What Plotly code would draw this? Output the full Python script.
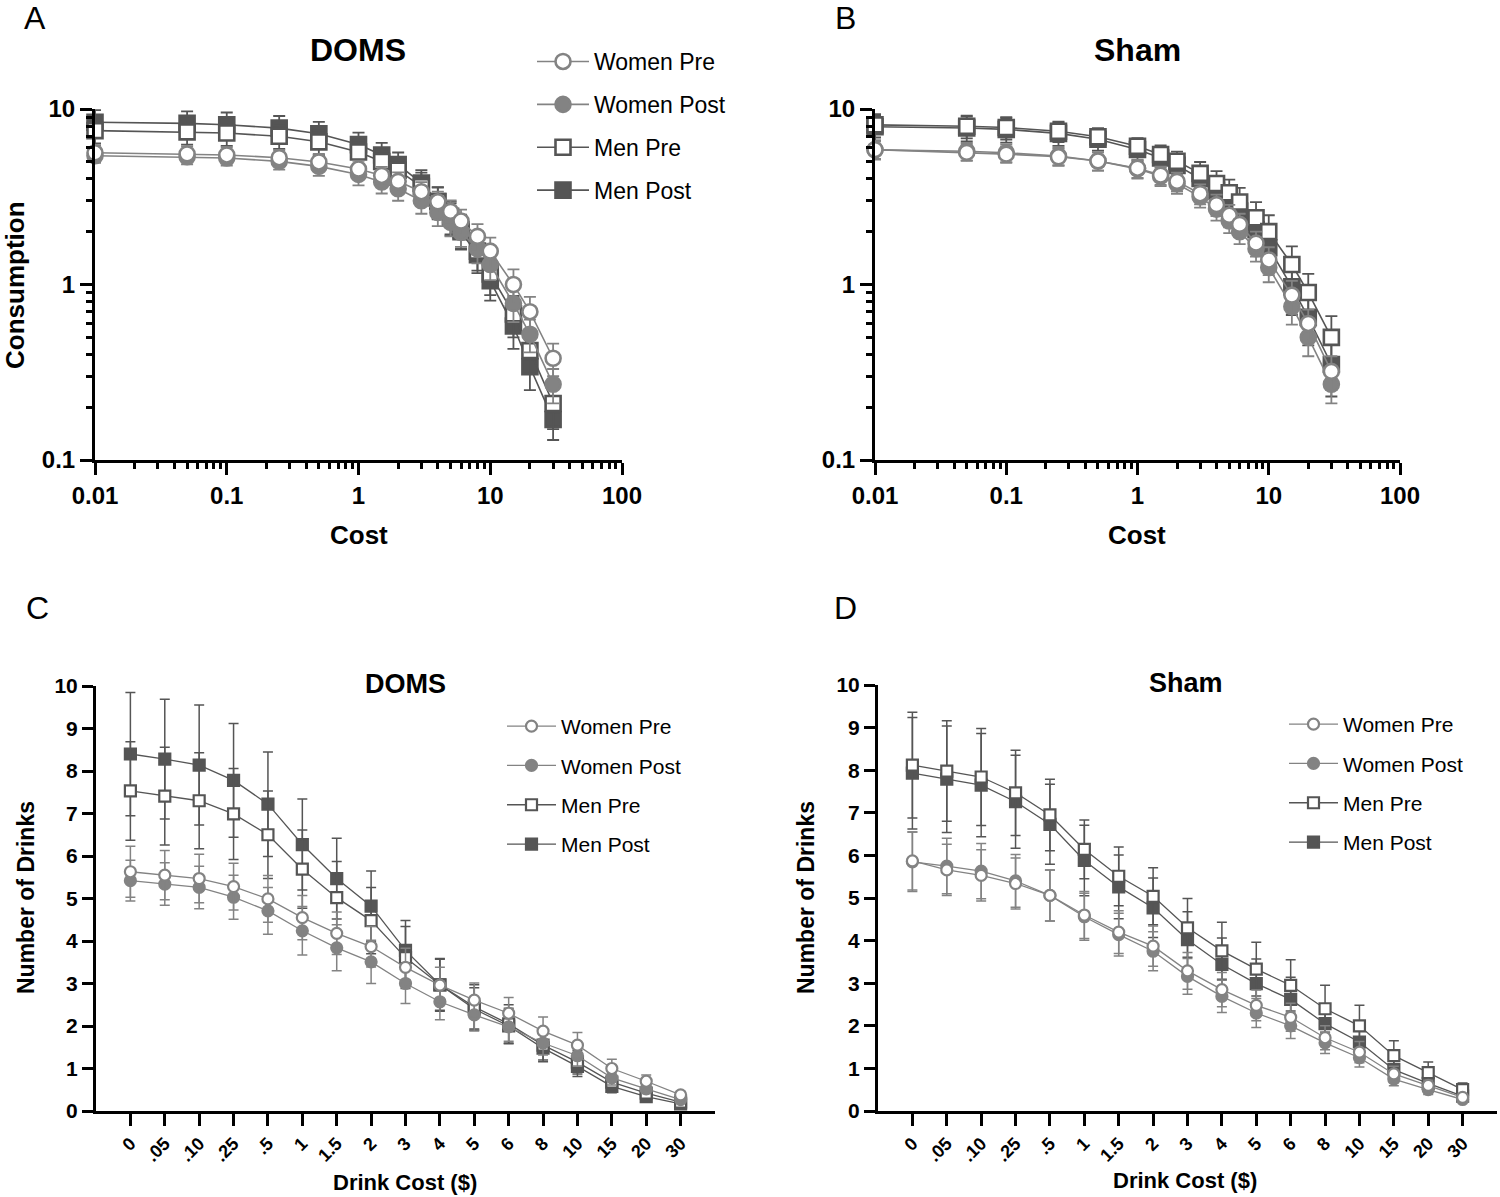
import plotly.graph_objects as go

# ---------------- data ----------------
cost_labels = ["0", ".05", ".10", ".25", ".5", "1", "1.5", "2", "3", "4",
               "5", "6", "8", "10", "15", "20", "30"]
cost_values = [0.01, 0.05, 0.1, 0.25, 0.5, 1, 1.5, 2, 3, 4, 5, 6, 8, 10, 15, 20, 30]
series_names = ["Women Pre", "Women Post", "Men Pre", "Men Post"]

# DOMS condition (mean number of drinks)
doms_women_pre = [5.63, 5.55, 5.47, 5.28, 4.99, 4.55, 4.18, 3.87, 3.38, 2.96, 2.61, 2.30, 1.88, 1.55, 1.00, 0.70, 0.38]
doms_women_post = [5.42, 5.34, 5.26, 5.03, 4.71, 4.24, 3.84, 3.51, 3.00, 2.57, 2.26, 1.98, 1.60, 1.30, 0.78, 0.52, 0.27]
doms_men_pre = [7.53, 7.41, 7.30, 6.99, 6.50, 5.69, 5.02, 4.48, 3.61, 2.97, 2.45, 2.05, 1.55, 1.15, 0.68, 0.42, 0.21]
doms_men_post = [8.40, 8.28, 8.14, 7.78, 7.22, 6.27, 5.47, 4.82, 3.78, 2.97, 2.40, 2.00, 1.48, 1.05, 0.58, 0.34, 0.17]

doms_women_pre_err = [0.60, 0.58, 0.57, 0.55, 0.55, 0.52, 0.50, 0.48, 0.45, 0.42, 0.40, 0.37, 0.33, 0.30, 0.22, 0.15, 0.08]
doms_women_post_err = [0.48, 0.50, 0.50, 0.52, 0.55, 0.57, 0.54, 0.51, 0.47, 0.42, 0.38, 0.34, 0.28, 0.24, 0.17, 0.11, 0.06]
doms_men_pre_err = [1.16, 1.15, 1.13, 1.07, 1.03, 0.92, 0.85, 0.78, 0.73, 0.60, 0.52, 0.45, 0.35, 0.28, 0.18, 0.11, 0.06]
doms_men_post_err = [1.45, 1.41, 1.41, 1.34, 1.23, 1.07, 0.95, 0.83, 0.70, 0.62, 0.50, 0.42, 0.32, 0.24, 0.15, 0.09, 0.04]

# Sham condition
sham_women_pre = [5.87, 5.66, 5.53, 5.34, 5.06, 4.60, 4.20, 3.87, 3.29, 2.85, 2.48, 2.20, 1.72, 1.38, 0.87, 0.60, 0.32]
sham_women_post = [5.85, 5.75, 5.63, 5.40, 5.06, 4.56, 4.14, 3.75, 3.16, 2.69, 2.30, 2.00, 1.60, 1.25, 0.75, 0.50, 0.27]
sham_men_pre = [8.12, 7.98, 7.84, 7.47, 6.95, 6.14, 5.51, 5.04, 4.30, 3.76, 3.33, 2.95, 2.40, 2.00, 1.30, 0.90, 0.50]
sham_men_post = [7.93, 7.79, 7.65, 7.26, 6.73, 5.88, 5.26, 4.77, 4.02, 3.44, 2.99, 2.62, 2.05, 1.62, 0.97, 0.65, 0.35]

sham_women_pre_err = [0.68, 0.60, 0.60, 0.60, 0.60, 0.55, 0.50, 0.47, 0.43, 0.40, 0.36, 0.33, 0.28, 0.25, 0.18, 0.12, 0.07]
sham_women_post_err = [0.70, 0.65, 0.65, 0.62, 0.60, 0.55, 0.50, 0.46, 0.42, 0.38, 0.34, 0.30, 0.25, 0.22, 0.16, 0.11, 0.06]
sham_men_pre_err = [1.24, 1.18, 1.14, 1.00, 0.84, 0.69, 0.69, 0.67, 0.69, 0.67, 0.63, 0.60, 0.55, 0.48, 0.35, 0.25, 0.16]
sham_men_post_err = [1.31, 1.25, 1.21, 1.09, 0.94, 0.83, 0.75, 0.70, 0.66, 0.62, 0.58, 0.52, 0.46, 0.40, 0.30, 0.20, 0.12]

log_major_vals = [0.01, 0.1, 1, 10, 100]
log_major_text = ["0.01", "0.1", "1", "10", "100"]
ylog_major_vals = [0.1, 1, 10]
ylog_major_text = ["0.1", "1", "10"]

# ---------------- styling ----------------
FONT = "Liberation Sans, Arial, Helvetica, sans-serif"
W_COLOR = "#838383"
M_COLOR = "#555555"
W_PX, H_PX = 1500, 1197

styles = {
    "Women Pre": dict(symbol="circle", fill="white", color=W_COLOR, rank=1),
    "Women Post": dict(symbol="circle", fill=W_COLOR, color=W_COLOR, rank=2),
    "Men Pre": dict(symbol="square", fill="white", color=M_COLOR, rank=3),
    "Men Post": dict(symbol="square", fill=M_COLOR, color=M_COLOR, rank=4),
}

doms = {"Women Pre": doms_women_pre, "Women Post": doms_women_post,
        "Men Pre": doms_men_pre, "Men Post": doms_men_post}
doms_err = {"Women Pre": doms_women_pre_err, "Women Post": doms_women_post_err,
            "Men Pre": doms_men_pre_err, "Men Post": doms_men_post_err}
sham = {"Women Pre": sham_women_pre, "Women Post": sham_women_post,
        "Men Pre": sham_men_pre, "Men Post": sham_men_post}
sham_err = {"Women Pre": sham_women_pre_err, "Women Post": sham_women_post_err,
            "Men Pre": sham_men_pre_err, "Men Post": sham_men_post_err}

fig = go.Figure()


def add_panel(xvals, data, errs, xa, ya, legend, showlegend, msize, mline, lw, ew, ecap):
    for name in reversed(series_names):
        st = styles[name]
        fig.add_trace(go.Scatter(
            x=xvals, y=data[name], name=name, mode="lines+markers",
            xaxis=xa, yaxis=ya, legend=legend, showlegend=showlegend,
            legendgroup=legend + name, legendrank=st["rank"],
            line=dict(color=st["color"], width=lw),
            marker=dict(symbol=st["symbol"], size=msize, color=st["fill"],
                        line=dict(color=st["color"], width=mline)),
            error_y=dict(type="data", array=errs[name], color=st["color"],
                         thickness=ew, width=ecap),
            cliponaxis=False,
        ))


add_panel(cost_values, doms, doms_err, "x", "y", "legend", True, 15, 2.6, 1.6, 1.8, 6)
add_panel(cost_values, sham, sham_err, "x2", "y2", "legend", False, 15, 2.6, 1.6, 1.8, 6)
add_panel(cost_labels, doms, doms_err, "x3", "y3", "legend2", True, 11, 2.2, 1.3, 1.5, 5)
add_panel(cost_labels, sham, sham_err, "x4", "y4", "legend3", True, 11, 2.2, 1.3, 1.5, 5)


def dx(a, b):
    return [a / W_PX, b / W_PX]


def dy(top, bottom):
    return [1 - bottom / H_PX, 1 - top / H_PX]


axis_common = dict(showline=True, linewidth=3, linecolor="black", showgrid=False,
                   zeroline=False, ticks="outside", tickwidth=3, tickcolor="black",
                   automargin=False)
minor_x = [m * 10 ** k for k in range(-2, 2) for m in range(2, 10)]
minor_y = [m * 10 ** k for k in range(-1, 1) for m in range(2, 10)]


def log_x(domain, anchor):
    return dict(axis_common, type="log", domain=domain, anchor=anchor, range=[-2, 2],
                tickmode="array", tickvals=log_major_vals, ticktext=log_major_text, ticklen=12,
                tickfont=dict(family=FONT, size=24, color="black", weight="bold"),
                minor=dict(tickmode="array", tickvals=minor_x, ticks="outside", ticklen=6,
                           tickwidth=2.5, tickcolor="black", showgrid=False))


def log_y(domain, anchor):
    return dict(axis_common, type="log", domain=domain, anchor=anchor, range=[-1, 1],
                tickmode="array", tickvals=ylog_major_vals, ticktext=ylog_major_text, ticklen=12,
                tickfont=dict(family=FONT, size=24, color="black", weight="bold"),
                minor=dict(tickmode="array", tickvals=minor_y, ticks="outside", ticklen=6,
                           tickwidth=2.5, tickcolor="black", showgrid=False))


def cat_x(domain, anchor):
    return dict(axis_common, type="category", domain=domain, anchor=anchor,
                categoryorder="array", categoryarray=cost_labels, range=[-1, 17],
                ticklen=12, tickangle=-45,
                tickfont=dict(family=FONT, size=18, color="black", weight="bold"))


def lin_y(domain, anchor):
    return dict(axis_common, domain=domain, anchor=anchor, range=[0, 10], dtick=1,
                tick0=0, ticklen=11,
                tickfont=dict(family=FONT, size=21, color="black", weight="bold"))


def ann(text, px, py, size, bold=True, angle=0):
    return dict(text=text, x=px / W_PX, y=1 - py / H_PX, xref="paper", yref="paper",
                xanchor="center", yanchor="middle", showarrow=False, textangle=angle,
                font=dict(family=FONT, size=size, color="black",
                          weight="bold" if bold else "normal"))


legend_common = dict(bgcolor="rgba(0,0,0,0)", traceorder="grouped", xanchor="left",
                     yanchor="top", itemclick=False)

fig.update_layout(
    width=W_PX, height=H_PX, margin=dict(l=0, r=0, t=0, b=0, autoexpand=False),
    paper_bgcolor="white", plot_bgcolor="white", showlegend=True,
    font=dict(family=FONT, color="black"),
    xaxis=log_x(dx(95, 622), "y"), yaxis=log_y(dy(109, 460), "x"),
    xaxis2=log_x(dx(875, 1400), "y2"), yaxis2=log_y(dy(109, 460), "x2"),
    xaxis3=cat_x(dx(96, 715), "y3"), yaxis3=lin_y(dy(686, 1111), "x3"),
    xaxis4=cat_x(dx(878, 1497), "y4"), yaxis4=lin_y(dy(685, 1111), "x4"),
    legend=dict(legend_common, x=532 / W_PX, y=1 - 40 / H_PX, tracegroupgap=10,
                itemwidth=52, font=dict(family=FONT, size=23, color="black")),
    legend2=dict(legend_common, x=502 / W_PX, y=1 - 706 / H_PX, tracegroupgap=9,
                 itemwidth=49, font=dict(family=FONT, size=21, color="black")),
    legend3=dict(legend_common, x=1284 / W_PX, y=1 - 704 / H_PX, tracegroupgap=9,
                 itemwidth=49, font=dict(family=FONT, size=21, color="black")),
    annotations=[
        ann("A", 35, 18, 32, bold=False),
        ann("B", 845, 18, 32, bold=False),
        ann("C", 37, 608, 32, bold=False),
        ann("D", 845, 608, 32, bold=False),
        ann("DOMS", 358, 50, 32),
        ann("Sham", 1137, 50, 32),
        ann("Consumption", 15, 285, 26, angle=-90),
        ann("Cost", 359, 535, 26),
        ann("Cost", 1137, 535, 26),
        ann("DOMS", 405, 684, 27),
        ann("Sham", 1186, 683, 27),
        ann("Number of Drinks", 26, 898, 23, angle=-90),
        ann("Number of Drinks", 806, 898, 23, angle=-90),
        ann("Drink Cost ($)", 405, 1182, 22),
        ann("Drink Cost ($)", 1185, 1180, 22),
    ],
)

fig.write_html(
    "out.html",
    config={"displayModeBar": False},
    post_script="document.body.style.margin='0';document.body.style.overflow='hidden';",
)
